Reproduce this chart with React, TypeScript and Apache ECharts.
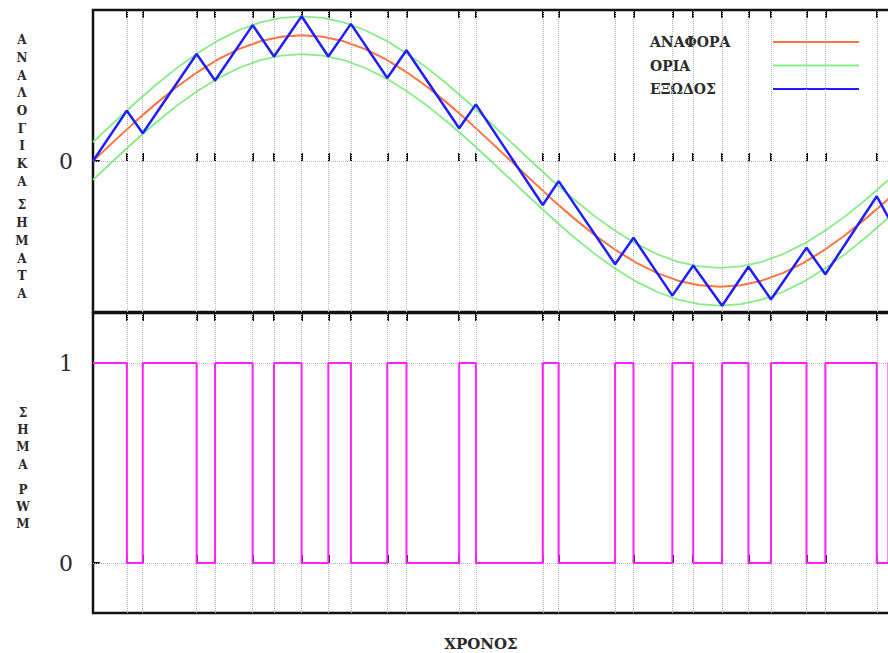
import React, { useEffect, useRef } from "react";
import * as echarts from "echarts";

// ---- data ----
const REF_T = [0, 0.5, 1, 1.5, 2, 2.5, 3, 3.5, 4, 4.5, 5, 5.5, 6, 6.5, 7, 7.5, 8, 8.5, 9, 9.5, 10, 10.5, 11, 11.5, 12, 12.5, 13, 13.5, 14, 14.5, 15, 15.5, 16, 16.5, 17, 17.5, 18, 18.5, 19, 19.5, 20];
const REF_V = [0, 0.156, 0.309, 0.454, 0.588, 0.707, 0.809, 0.891, 0.951, 0.988, 1, 0.988, 0.951, 0.891, 0.809, 0.707, 0.588, 0.454, 0.309, 0.156, 0, -0.156, -0.309, -0.454, -0.588, -0.707, -0.809, -0.891, -0.951, -0.988, -1, -0.988, -0.951, -0.891, -0.809, -0.707, -0.588, -0.454, -0.309, -0.156, 0];
const UPPER_V = [0.15, 0.306, 0.459, 0.604, 0.738, 0.857, 0.959, 1.041, 1.101, 1.138, 1.15, 1.138, 1.101, 1.041, 0.959, 0.857, 0.738, 0.604, 0.459, 0.306, 0.15, -0.006, -0.159, -0.304, -0.438, -0.557, -0.659, -0.741, -0.801, -0.838, -0.85, -0.838, -0.801, -0.741, -0.659, -0.557, -0.438, -0.304, -0.159, -0.006, 0.15];
const LOWER_V = [-0.15, 0.006, 0.159, 0.304, 0.438, 0.557, 0.659, 0.741, 0.801, 0.838, 0.85, 0.838, 0.801, 0.741, 0.659, 0.557, 0.438, 0.304, 0.159, 0.006, -0.15, -0.306, -0.459, -0.604, -0.738, -0.857, -0.959, -1.041, -1.101, -1.138, -1.15, -1.138, -1.101, -1.041, -0.959, -0.857, -0.738, -0.604, -0.459, -0.306, -0.15];

const SWITCH_T = [0, 0.81, 1.19, 2.48, 2.92, 3.82, 4.33, 4.99, 5.63, 6.17, 7.04, 7.5, 8.76, 9.16, 10.76, 11.14, 12.49, 12.93, 13.86, 14.36, 15.05, 15.68, 16.22, 17.07, 17.52, 18.75, 19.03, 20];
const OUTPUT_V = [0, 0.4, 0.22, 0.85, 0.64, 1.08, 0.83, 1.15, 0.83, 1.09, 0.66, 0.88, 0.26, 0.45, -0.35, -0.16, -0.82, -0.61, -1.07, -0.83, -1.15, -0.84, -1.1, -0.69, -0.9, -0.28, -0.45, 0.02];
const PWM_LEVEL = [1, 0, 1, 0, 1, 0, 1, 0, 1, 0, 1, 0, 1, 0, 1, 0, 1, 0, 1, 0, 1, 0, 1, 0, 1, 0, 1, 1];

const TOP_Y_TICKS = [0];
const BOTTOM_Y_TICKS = [0, 1];

const NAME_REF = "ΑΝΑΦΟΡΑ";
const NAME_BOUNDS = "ΟΡΙΑ";
const NAME_OUT = "ΕΞΩΔΟΣ";
const TOP_Y_NAME = "ΑΝΑΛΟΓΙΚΑ ΣΗΜΑΤΑ";
const BOTTOM_Y_NAME = "ΣΗΜΑ PWM";
const X_NAME = "ΧΡΟΝΟΣ";

const SERIF = "'DejaVu Serif', serif";
const TXT = "#2a2a2a";

function stacked(s: string) {
  return s
    .split("")
    .map((ch) => (ch === " " ? "{g| }" : `{l|${ch}}`))
    .join("\n");
}

export default function App() {
  const ref = useRef<HTMLDivElement>(null);

  useEffect(() => {
    if (!ref.current) return;
    const chart = echarts.init(ref.current, undefined, { renderer: "svg" });

    const ticks = SWITCH_T.slice(1, -1);
    const gridStyle = { type: "dotted" as const, color: "#b4b4b4", width: 1 };

    const xBase = (gridIndex: number, position: "top" | "bottom") => ({
      type: "value" as const,
      gridIndex,
      position,
      min: 0,
      max: 20,
      axisLine: { show: false },
      axisLabel: { show: false },
      splitLine: { show: false },
      axisTick: {
        show: true,
        inside: true,
        length: 8,
        customValues: ticks,
        lineStyle: { color: "#111", width: 2 },
      },
    });

    const richL = (lh: number, gap: number) => ({
      l: { fontFamily: SERIF, fontWeight: "bold", fontSize: 12, color: TXT, lineHeight: lh, align: "center" },
      g: { fontSize: 6, lineHeight: gap },
    });

    const lineSeries = (name: string, data: number[][], color: string, width: number, z: number) => ({
      name,
      type: "line",
      xAxisIndex: 0,
      yAxisIndex: 0,
      symbol: "none",
      z,
      lineStyle: { color, width },
      itemStyle: { color },
      data,
    });

    const option: any = {
      animation: false,
      backgroundColor: "#fff",
      grid: [
        { left: 93, top: 10, width: 836, height: 302, show: true, borderColor: "#111", borderWidth: 2.5 },
        { left: 93, top: 313, width: 836, height: 300, show: true, borderColor: "#111", borderWidth: 2.5 },
      ],
      xAxis: [
        xBase(0, "bottom"),
        xBase(0, "top"),
        {
          ...xBase(1, "bottom"),
          name: X_NAME,
          nameLocation: "middle",
          nameGap: 23,
          nameTextStyle: { fontFamily: SERIF, fontWeight: "bold", fontSize: 15, color: TXT, padding: [0, 60, 0, 0] },
        },
        xBase(1, "top"),
      ],
      yAxis: [
        {
          type: "value",
          gridIndex: 0,
          min: -1.2,
          max: 1.2,
          axisLine: { show: false },
          splitLine: { show: false },
          axisTick: { show: true, inside: true, length: 7, customValues: TOP_Y_TICKS, lineStyle: { color: "#111", width: 2 } },
          axisLabel: { customValues: TOP_Y_TICKS, fontFamily: SERIF, fontSize: 22, color: TXT, margin: 20 },
          name: stacked(TOP_Y_NAME),
          nameLocation: "middle",
          nameRotate: 0,
          nameGap: 71,
          nameTextStyle: { align: "center", verticalAlign: "middle", padding: [12, 0, 0, 0], rich: richL(17.7, 6) },
        },
        {
          type: "value",
          gridIndex: 1,
          min: -0.25,
          max: 1.25,
          axisLine: { show: false },
          splitLine: { show: false },
          axisTick: { show: true, inside: true, length: 7, customValues: BOTTOM_Y_TICKS, lineStyle: { color: "#111", width: 2 } },
          axisLabel: { customValues: BOTTOM_Y_TICKS, fontFamily: SERIF, fontSize: 22, color: TXT, margin: 20 },
          name: stacked(BOTTOM_Y_NAME),
          nameLocation: "middle",
          nameRotate: 0,
          nameGap: 70,
          nameTextStyle: { align: "center", verticalAlign: "middle", padding: [11, 0, 0, 0], rich: richL(17.3, 7.7) },
        },
      ],
      legend: {
        orient: "vertical",
        left: 640,
        top: 18,
        padding: [17, 29, 15, 10],
        backgroundColor: "#fff",
        align: "right",
        itemWidth: 86,
        itemHeight: 14,
        itemGap: 9.5,
        selectedMode: false,
        itemStyle: { color: "transparent", borderColor: "transparent", borderWidth: 0, opacity: 0 },
        data: [NAME_REF, NAME_BOUNDS, NAME_OUT],
        formatter: (name: string) => `{t|${name}}`,
        textStyle: {
          rich: {
            t: { width: 118, align: "left", fontFamily: SERIF, fontWeight: "bold", fontSize: 14, color: TXT },
          },
        },
      },
      series: [
        {
          name: "grid-top",
          type: "line",
          xAxisIndex: 0,
          yAxisIndex: 0,
          data: [],
          silent: true,
          z: 1,
          markLine: {
            silent: true,
            symbol: ["none", "none"],
            label: { show: false },
            lineStyle: gridStyle,
            data: [...ticks.map((t) => ({ xAxis: t })), ...TOP_Y_TICKS.map((v) => ({ yAxis: v }))],
          },
        },
        {
          name: "grid-bottom",
          type: "line",
          xAxisIndex: 2,
          yAxisIndex: 1,
          data: [],
          silent: true,
          z: 1,
          markLine: {
            silent: true,
            symbol: ["none", "none"],
            label: { show: false },
            lineStyle: gridStyle,
            data: [...ticks.map((t) => ({ xAxis: t })), ...BOTTOM_Y_TICKS.map((v) => ({ yAxis: v }))],
          },
        },
        lineSeries(NAME_BOUNDS, REF_T.map((t, i) => [t, UPPER_V[i]]), "#86ee86", 1.8, 3),
        lineSeries(NAME_BOUNDS, REF_T.map((t, i) => [t, LOWER_V[i]]), "#86ee86", 1.8, 3),
        lineSeries(NAME_REF, REF_T.map((t, i) => [t, REF_V[i]]), "#ff7340", 2, 4),
        lineSeries(NAME_OUT, SWITCH_T.map((t, i) => [t, OUTPUT_V[i]]), "#1e1eff", 2.5, 5),
        {
          name: "PWM",
          type: "line",
          xAxisIndex: 2,
          yAxisIndex: 1,
          symbol: "none",
          step: "end",
          z: 5,
          lineStyle: { color: "#ff22ff", width: 2 },
          itemStyle: { color: "#ff22ff" },
          data: SWITCH_T.map((t, i) => [t, PWM_LEVEL[i]]),
        },
      ],
    };

    chart.setOption(option);
    return () => chart.dispose();
  }, []);

  return (
    <div
      style={{ position: "absolute", left: 0, top: 0, width: 888, height: 653, overflow: "hidden", background: "#fff" }}
    >
      <div ref={ref} style={{ width: 940, height: 653 }} />
    </div>
  );
}
